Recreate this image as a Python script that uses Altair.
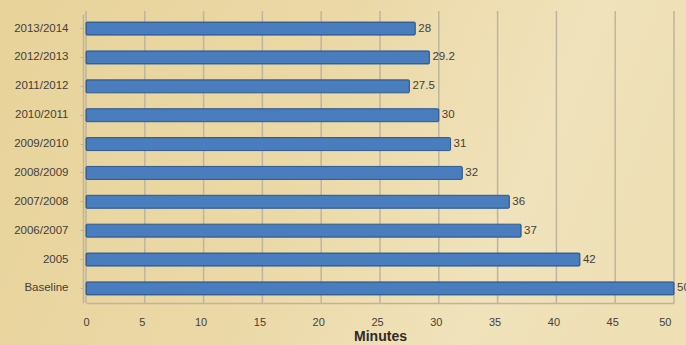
import altair as alt
import pandas as pd

categories = ["2013/2014", "2012/2013", "2011/2012", "2010/2011", "2009/2010",
              "2008/2009", "2007/2008", "2006/2007", "2005", "Baseline"]
minutes = [28, 29.2, 27.5, 30, 31, 32, 36, 37, 42, 50]
labels = ["28", "29.2", "27.5", "30", "31", "32", "36", "37", "42", "50"]
x_ticks = [0, 5, 10, 15, 20, 25, 30, 35, 40, 45, 50]

df = pd.DataFrame({"cat": categories, "val": minutes, "lab": labels})
grid_df = pd.DataFrame({"t": x_ticks})

FONT = "Liberation Sans"
TXT = "#45403a"
GRID = "#bfb59e"

bg = alt.Chart(pd.DataFrame({"a": [0]})).mark_rect(
    color=alt.LinearGradient(
        gradient="linear", x1=0, y1=0.2, x2=1, y2=0.4,
        stops=[alt.GradientStop(color="#e8d39b", offset=0),
               alt.GradientStop(color="#ebd8a6", offset=0.45),
               alt.GradientStop(color="#f0e2bb", offset=0.8),
               alt.GradientStop(color="#eedfb5", offset=1)]),
).encode(x=alt.value(-86), x2=alt.value(600), y=alt.value(-14), y2=alt.value(331))

xscale = alt.Scale(domain=[0, 50], nice=False)

grid = alt.Chart(grid_df).mark_rule(color=GRID, strokeWidth=1.5).encode(
    x=alt.X("t:Q", scale=xscale), y=alt.value(-3), y2=alt.value(289))

yenc = alt.Y("cat:N", sort=categories, title=None,
             scale=alt.Scale(paddingInner=0.55, paddingOuter=0.28),
             axis=alt.Axis(labelFont=FONT, labelFontSize=11.5, labelColor=TXT,
                           labelPadding=12, ticks=True, tickSize=3, tickColor=GRID,
                           domainColor=GRID, domainWidth=1.5, offset=3, zindex=1))
xenc = alt.X("val:Q", title="Minutes", scale=xscale,
             axis=alt.Axis(values=x_ticks, labelFont=FONT, labelFontSize=11,
                           labelColor=TXT, labelPadding=13, labelOffset=-3, tickSize=0,
                           grid=False, zindex=1,
                           domainColor=GRID, domainWidth=1.5,
                           titleFont=FONT, titleFontSize=14, titleFontWeight="bold",
                           titleColor="#2e2b26", titlePadding=2))

bars = alt.Chart(df).mark_bar(color="#4a7dbd", stroke="#2d5a93", strokeWidth=1,
                              cornerRadius=1, size=13).encode(x=xenc, y=yenc)
text = alt.Chart(df).mark_text(align="left", baseline="middle", dx=3, font=FONT,
                               fontSize=11.5, color=TXT).encode(
    x=alt.X("val:Q"), y=alt.Y("cat:N", sort=categories), text="lab:N")

chart = alt.layer(bg, grid, bars, text).properties(
    width=588, height=289,
    autosize=alt.AutoSizeParams(type="none"),
    padding={"left": 86, "top": 14, "right": 12, "bottom": 42},
    background="#ecd9a5",
).configure_view(stroke=None)

chart.save("out.html", embed_options={"renderer": "svg", "actions": False})
